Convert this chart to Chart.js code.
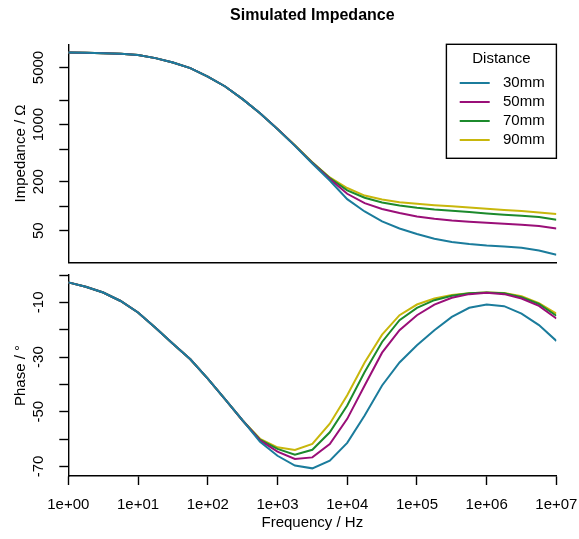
<!DOCTYPE html>
<html>
<head>
<meta charset="utf-8">
<script src="https://cdn.jsdelivr.net/npm/chart.js@4.4.1/dist/chart.umd.min.js"></script>
<style>
  html, body { margin: 0; padding: 0; background: #fff; }
  #wrap { position: relative; width: 579px; height: 539px; }
  #wrap canvas { position: absolute; left: 0; top: 0; }
</style>
</head>
<body>
<div id="wrap">
  <canvas id="chart-impedance" width="579" height="539"></canvas>
  <canvas id="chart-phase" width="579" height="539"></canvas>
</div>
<script>
// sample frequencies (Hz), quarter decades
const FREQ = [1, 1.778, 3.162, 5.623, 10, 17.78, 31.62, 56.23, 100, 177.8, 316.2, 562.3,
  1000, 1778, 3162, 5623, 10000, 17783, 31623, 56234, 100000, 177828, 316228, 562341,
  1000000, 1778279, 3162278, 5623413, 10000000];

const DISTANCES = ["30mm", "50mm", "70mm", "90mm"];
const COLORS = ["#1B7C9C", "#9A0F78", "#1C8A2C", "#C8B70C"];

// impedance magnitude (Ohm)
const IMP_30 = [7630, 7570, 7500, 7360, 7100, 6520, 5760, 4920, 3880, 2930, 2050, 1380,
  880, 548, 333, 206, 122, 86.2, 65.0, 53.3, 45.6, 39.9, 36.4, 34.4, 33.0, 32.1, 31.0, 28.7, 25.4];
const IMP_50 = [7630, 7570, 7500, 7360, 7100, 6520, 5760, 4920, 3880, 2930, 2050, 1380,
  880, 552, 338, 215, 142, 109, 92.2, 82.4, 74.8, 70.2, 66.8, 64.4, 62.6, 60.9, 59.2, 57.0, 53.3];
const IMP_70 = [7630, 7570, 7500, 7360, 7100, 6520, 5760, 4920, 3880, 2930, 2050, 1380,
  880, 555, 342, 221, 156, 127, 111, 102, 95.7, 91.2, 87.9, 84.7, 81.5, 78.5, 76.4, 73.6, 68.2];
const IMP_90 = [7630, 7570, 7500, 7360, 7100, 6520, 5760, 4920, 3880, 2930, 2050, 1380,
  880, 558, 346, 225, 167, 135, 121, 112, 107, 103, 100, 96.4, 92.9, 89.5, 87.1, 83.8, 80.2];

// phase (degrees)
const PHASE_30 = [-2.7, -4.3, -6.4, -9.5, -13.7, -19.3, -25.1, -30.8, -37.9, -45.5, -53.2, -61.0,
  -66.1, -69.7, -70.7, -67.9, -61.4, -51.4, -40.4, -32.0, -25.7, -20.2, -15.3, -12.0, -10.8, -11.4, -14.1, -18.3, -24.1];
const PHASE_50 = [-2.7, -4.3, -6.4, -9.5, -13.7, -19.3, -25.1, -30.8, -37.9, -45.5, -53.2, -60.5,
  -64.6, -67.3, -66.7, -61.8, -52.6, -40.4, -28.4, -20.2, -14.7, -10.8, -8.3, -7.0, -6.5, -7.0, -8.6, -11.3, -15.9];
const PHASE_70 = [-2.7, -4.3, -6.4, -9.5, -13.7, -19.3, -25.1, -30.8, -37.9, -45.5, -53.2, -60.2,
  -63.6, -65.7, -63.9, -57.5, -47.7, -35.5, -24.5, -16.5, -12.0, -9.2, -7.6, -6.7, -6.4, -6.7, -8.1, -10.6, -14.9];
const PHASE_90 = [-2.7, -4.3, -6.4, -9.5, -13.7, -19.3, -25.1, -30.8, -37.9, -45.5, -53.2, -59.9,
  -63.0, -64.0, -61.8, -54.4, -44.0, -32.0, -21.8, -14.7, -10.8, -8.6, -7.3, -6.7, -6.4, -6.6, -7.8, -10.3, -14.1];

const IMP_TICKS = [50, 100, 200, 500, 1000, 2000, 5000];
const IMP_LABELS = [50, 200, 1000, 5000];
const PHASE_TICKS = [0, -10, -20, -30, -40, -50, -60, -70];
const PHASE_LABELS = [-10, -30, -50, -70];
const FREQ_TICKS = [1, 10, 100, 1000, 10000, 100000, 1000000, 10000000];
const LEGEND_TITLE = "Distance";

const FONT = '"Liberation Sans", Arial, Helvetica, sans-serif';
Chart.defaults.font.family = FONT;
Chart.defaults.font.size = 15;
Chart.defaults.color = "#000";

function lineSet(label, values, color) {
  return {
    label,
    data: values.map((v, i) => ({ x: FREQ[i], y: v })),
    borderColor: color,
    backgroundColor: color,
    borderWidth: 2,
    pointRadius: 0,
    tension: 0,
    fill: false,
  };
}

const AXIS_BORDER = { display: true, color: "#000", width: 1.4 };
const TICK_GRID = { drawOnChartArea: false, drawTicks: true, tickLength: 9, tickColor: "#000", tickWidth: 1.4 };

const boxLegend = {
  id: "boxLegend",
  afterDraw(chart) {
    const { ctx, chartArea } = chart;
    const w = 110, h = 114;
    const x0 = chartArea.right - w, y0 = chartArea.top;
    ctx.save();
    ctx.fillStyle = "#fff";
    ctx.fillRect(x0, y0, w, h);
    ctx.lineWidth = 1.4;
    ctx.strokeStyle = "#000";
    ctx.strokeRect(x0, y0, w, h);
    ctx.font = "15px " + FONT;
    ctx.fillStyle = "#000";
    ctx.textBaseline = "middle";
    ctx.textAlign = "center";
    ctx.fillText(LEGEND_TITLE, x0 + w / 2, y0 + 14.5);
    ctx.textAlign = "left";
    chart.data.datasets.forEach((ds, i) => {
      const yy = y0 + 38.7 + i * 19;
      ctx.strokeStyle = ds.borderColor;
      ctx.lineWidth = 2;
      ctx.beginPath();
      ctx.moveTo(x0 + 13.3, yy);
      ctx.lineTo(x0 + 43.3, yy);
      ctx.stroke();
      ctx.fillText(ds.label, x0 + 56.6, yy);
    });
    ctx.restore();
  },
};

new Chart(document.getElementById("chart-impedance"), {
  type: "line",
  data: {
    datasets: [
      lineSet(DISTANCES[0], IMP_30, COLORS[0]),
      lineSet(DISTANCES[1], IMP_50, COLORS[1]),
      lineSet(DISTANCES[2], IMP_70, COLORS[2]),
      lineSet(DISTANCES[3], IMP_90, COLORS[3]),
    ],
  },
  options: {
    responsive: false,
    animation: false,
    devicePixelRatio: 1,
    layout: { padding: { left: 0, right: 22.6, top: 0, bottom: 539 - 262.7 } },
    plugins: {
      legend: { display: false },
      tooltip: { enabled: false },
      title: {
        display: true,
        fullSize: false,
        text: "Simulated Impedance",
        color: "#000",
        font: { size: 16, weight: "bold" },
        padding: { top: 6.4, bottom: 18.7 },
      },
    },
    scales: {
      x: {
        type: "logarithmic",
        min: 1, max: 10000000,
        grid: { display: false },
        ticks: { display: false },
        border: AXIS_BORDER,
        afterFit: (s) => { s.height = 0; s.paddingLeft = 0; s.paddingRight = 0; },
      },
      y: {
        type: "logarithmic",
        min: 20.3, max: 9630,
        afterBuildTicks: (s) => { s.ticks = IMP_TICKS.map((v) => ({ value: v })); },
        ticks: {
          autoSkip: false,
          minRotation: 90, maxRotation: 90,
          crossAlign: "center",
          padding: 3.6,
          callback: (v) => (IMP_LABELS.includes(v) ? String(v) : ""),
        },
        grid: TICK_GRID,
        border: AXIS_BORDER,
        title: { display: true, text: "Impedance / Ω", padding: { top: 12, bottom: 0 } },
        afterFit: (s) => { s.width = 68.3; },
      },
    },
  },
  plugins: [boxLegend],
});

new Chart(document.getElementById("chart-phase"), {
  type: "line",
  data: {
    datasets: [
      lineSet(DISTANCES[0], PHASE_30, COLORS[0]),
      lineSet(DISTANCES[1], PHASE_50, COLORS[1]),
      lineSet(DISTANCES[2], PHASE_70, COLORS[2]),
      lineSet(DISTANCES[3], PHASE_90, COLORS[3]),
    ],
  },
  options: {
    responsive: false,
    animation: false,
    devicePixelRatio: 1,
    layout: { padding: { left: 0, right: 22.6, top: 275, bottom: 0 } },
    plugins: { legend: { display: false }, tooltip: { enabled: false }, title: { display: false } },
    scales: {
      x: {
        type: "logarithmic",
        min: 1, max: 10000000,
        afterBuildTicks: (s) => { s.ticks = FREQ_TICKS.map((v) => ({ value: v })); },
        ticks: {
          autoSkip: false,
          maxRotation: 0,
          padding: 11,
          callback: (v) => "1e+" + String(Math.round(Math.log10(v))).padStart(2, "0"),
        },
        grid: TICK_GRID,
        border: AXIS_BORDER,
        title: { display: true, text: "Frequency / Hz", padding: { top: 0, bottom: 7 } },
        afterFit: (s) => { s.height = 63; s.paddingLeft = 0; s.paddingRight = 0; },
      },
      y: {
        type: "linear",
        min: -73.5, max: 0,
        afterBuildTicks: (s) => { s.ticks = PHASE_TICKS.map((v) => ({ value: v })); },
        ticks: {
          autoSkip: false,
          minRotation: 90, maxRotation: 90,
          crossAlign: "center",
          padding: 9.5,
          callback: (v) => (PHASE_LABELS.includes(v) ? String(v) : ""),
        },
        grid: TICK_GRID,
        border: AXIS_BORDER,
        title: { display: true, text: "Phase / °", padding: { top: 12, bottom: 0 } },
        afterFit: (s) => { s.width = 68.3; },
      },
    },
  },
});
</script>
</body>
</html>
